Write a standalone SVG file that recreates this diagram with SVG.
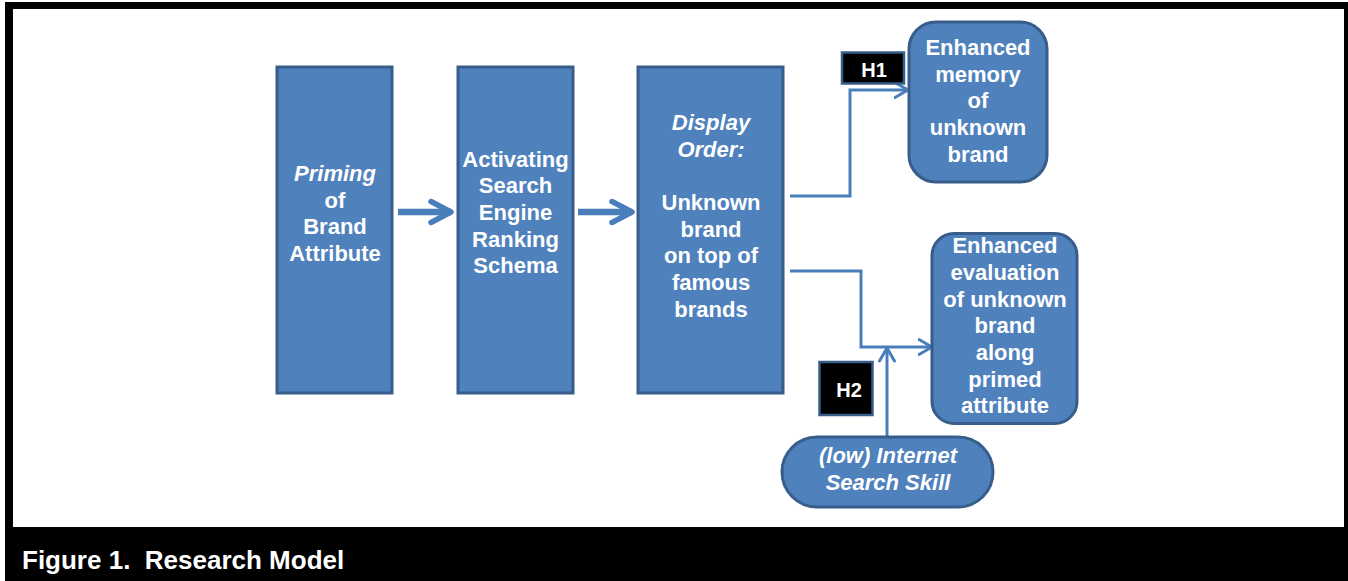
<svg xmlns="http://www.w3.org/2000/svg" width="1348" height="581" viewBox="0 0 1348 581">
<style>
.box{fill:#4f81bd;stroke:#385d8a;stroke-width:3}
.hbox{fill:#000;stroke:#385d8a;stroke-width:2.5}
.t{font-family:"Liberation Sans",Arial,sans-serif;font-weight:bold;font-size:22px;fill:#fff;text-anchor:middle}
.i{font-style:italic}
.c{fill:none;stroke:#4a7ebb;stroke-width:3}
.ct{fill:none;stroke:#4a7ebb;stroke-width:6.5}
.cap{font-family:"Liberation Sans",Arial,sans-serif;font-weight:bold;font-size:26px;fill:#fff}
</style>
<defs>
<marker id="ah" markerUnits="userSpaceOnUse" viewBox="0 0 16 18" refX="14.5" refY="9" markerWidth="16" markerHeight="18" orient="auto">
<path d="M1.5,1.5 L14.5,9 L1.5,16.5" fill="none" stroke="#4a7ebb" stroke-width="3" stroke-linecap="round" stroke-linejoin="round"/>
</marker>
<marker id="ahT" markerUnits="userSpaceOnUse" viewBox="0 0 26 28" refX="23" refY="14" markerWidth="26" markerHeight="28" orient="auto">
<path d="M3,3.5 L23,14 L3,24.5" fill="none" stroke="#4a7ebb" stroke-width="5.5" stroke-linecap="round" stroke-linejoin="round"/>
</marker>
</defs>
<rect x="0" y="0" width="1348" height="581" fill="#fff"/>
<rect x="5" y="2" width="1343" height="579" fill="#000"/>
<rect x="13" y="9" width="1331" height="518" fill="#fff"/>
<text class="cap" x="22" y="569">Figure 1.&#160; Research Model</text>

<g id="connectors">
<line class="ct" x1="398" y1="212" x2="451" y2="212" marker-end="url(#ahT)"/>
<line class="ct" x1="578" y1="212" x2="632" y2="212" marker-end="url(#ahT)"/>
<polyline class="c" points="790,196 850,196 850,90 908,90" marker-end="url(#ah)"/>
<polyline class="c" points="790,271 861,271 861,347 932,347" marker-end="url(#ah)"/>
<line class="c" x1="887" y1="437" x2="887" y2="348" marker-end="url(#ah)"/>
</g>

<g id="priming">
<rect class="box" x="277" y="67" width="115" height="326"/>
<text class="t i" x="335" y="181">Priming</text>
<text class="t" x="335" y="207.5">of</text>
<text class="t" x="335" y="234">Brand</text>
<text class="t" x="335" y="260.7">Attribute</text>
</g>

<g id="activating">
<rect class="box" x="458" y="67" width="115" height="326"/>
<text class="t" x="515.5" y="166.7">Activating</text>
<text class="t" x="515.5" y="193.3">Search</text>
<text class="t" x="515.5" y="220">Engine</text>
<text class="t" x="515.5" y="246.7">Ranking</text>
<text class="t" x="515.5" y="273.3">Schema</text>
</g>

<g id="display">
<rect class="box" x="638" y="67" width="145" height="326"/>
<text class="t i" x="711" y="130">Display</text>
<text class="t i" x="711" y="156.7">Order:</text>
<text class="t" x="711" y="210">Unknown</text>
<text class="t" x="711" y="236.7">brand</text>
<text class="t" x="711" y="263.3">on top of</text>
<text class="t" x="711" y="290">famous</text>
<text class="t" x="711" y="316.7">brands</text>
</g>

<g id="h1">
<rect class="hbox" x="842" y="52.5" width="62" height="31"/>
<text class="t" x="874" y="76.5" style="font-size:20px">H1</text>
</g>

<g id="memory">
<rect class="box" x="909" y="22" width="138" height="160" rx="27"/>
<text class="t" x="978" y="55">Enhanced</text>
<text class="t" x="978" y="81.7">memory</text>
<text class="t" x="978" y="108.3">of</text>
<text class="t" x="978" y="135">unknown</text>
<text class="t" x="978" y="161.7">brand</text>
</g>

<g id="h2">
<rect class="hbox" x="819.5" y="362" width="53" height="53"/>
<text class="t" x="849" y="396.5" style="font-size:20px">H2</text>
</g>

<g id="evaluation">
<rect class="box" x="932" y="233.5" width="145" height="190" rx="22"/>
<text class="t" x="1005" y="253.3">Enhanced</text>
<text class="t" x="1005" y="280">evaluation</text>
<text class="t" x="1005" y="306.7">of unknown</text>
<text class="t" x="1005" y="333.3">brand</text>
<text class="t" x="1005" y="360">along</text>
<text class="t" x="1005" y="386.7">primed</text>
<text class="t" x="1005" y="413.3">attribute</text>
</g>

<g id="skill">
<rect class="box" x="782" y="437" width="211" height="70" rx="35"/>
<text class="t i" x="888" y="463.3">(low) Internet</text>
<text class="t i" x="888" y="490">Search Skill</text>
</g>
</svg>
